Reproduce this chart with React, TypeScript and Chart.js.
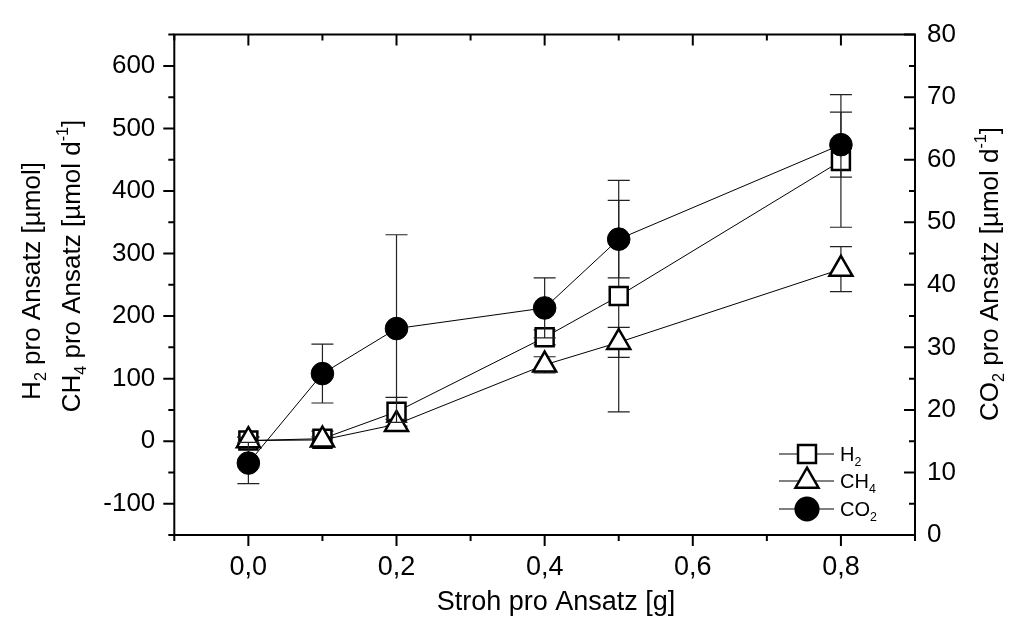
import React, { useEffect, useRef } from 'react';
import { Chart, registerables } from 'chart.js';

Chart.register(...registerables);

// ---- data ----
const strawGrams = [0, 0.1, 0.2, 0.4, 0.5, 0.8];
const h2Values = [1, 4, 47, 166, 232, 448];
const h2Errors = [6, 12, 23, 12, 185, 106];
const ch4Values = [1, 2, 27, 122, 158, 275];
const ch4Errors = [5, 5, 8, 13, 24, 36];
const co2Values = [11.5, 25.8, 33, 36.3, 47.3, 62.4];
const co2Errors = [3.3, 4.7, 15, 4.8, 6.2, 5.2];

// ---- ticks ----
const xTickValues = [0, 0.2, 0.4, 0.6, 0.8];
const xTickLabels = ['0,0', '0,2', '0,4', '0,6', '0,8'];
const xMinorValues = [-0.1, 0.1, 0.3, 0.5, 0.7, 0.9];
const leftTickValues = [-100, 0, 100, 200, 300, 400, 500, 600];
const leftMinorValues = [-150, -50, 50, 150, 250, 350, 450, 550, 650];
const rightTickValues = [0, 10, 20, 30, 40, 50, 60, 70, 80];
const rightMinorValues = [5, 15, 25, 35, 45, 55, 65, 75];

const FONT = "'Liberation Sans', Arial, Helvetica, sans-serif";

type Seg = { t: string; k?: 'sub' | 'sup' };

const leftTitle1: Seg[] = [{ t: 'H' }, { t: '2', k: 'sub' }, { t: ' pro Ansatz [µmol]' }];
const leftTitle2: Seg[] = [{ t: 'CH' }, { t: '4', k: 'sub' }, { t: ' pro Ansatz [µmol d' }, { t: '-1', k: 'sup' }, { t: ']' }];
const rightTitle: Seg[] = [{ t: 'CO' }, { t: '2', k: 'sub' }, { t: ' pro Ansatz [µmol d' }, { t: '-1', k: 'sup' }, { t: ']' }];
const xTitle: Seg[] = [{ t: 'Stroh pro Ansatz [g]' }];
const legendEntries: { segs: Seg[]; style: string }[] = [
  { segs: [{ t: 'H' }, { t: '2', k: 'sub' }], style: 'rect' },
  { segs: [{ t: 'CH' }, { t: '4', k: 'sub' }], style: 'triangle' },
  { segs: [{ t: 'CO' }, { t: '2', k: 'sub' }], style: 'circle' },
];

function drawRich(ctx: CanvasRenderingContext2D, segs: Seg[], size: number, x: number, y: number, rotate: boolean, align: 'center' | 'left') {
  ctx.save();
  ctx.translate(x, y);
  if (rotate) ctx.rotate(-Math.PI / 2);
  const small = size * 0.62;
  let w = 0;
  for (const s of segs) {
    ctx.font = `${s.k ? small : size}px ${FONT}`;
    w += ctx.measureText(s.t).width;
  }
  let cx = align === 'center' ? -w / 2 : 0;
  ctx.textBaseline = 'alphabetic';
  ctx.textAlign = 'left';
  ctx.fillStyle = '#000';
  for (const s of segs) {
    ctx.font = `${s.k ? small : size}px ${FONT}`;
    const dy = s.k === 'sub' ? size * 0.24 : s.k === 'sup' ? -size * 0.45 : 0;
    ctx.fillText(s.t, cx, dy);
    cx += ctx.measureText(s.t).width;
  }
  ctx.restore();
}

function drawMarker(ctx: CanvasRenderingContext2D, style: string, x: number, y: number) {
  ctx.save();
  ctx.lineWidth = 2.5;
  ctx.strokeStyle = '#000';
  ctx.beginPath();
  if (style === 'rect') {
    const s = 12.7 * Math.SQRT1_2;
    ctx.rect(x - s, y - s, 2 * s, 2 * s);
    ctx.fillStyle = '#fff';
  } else if (style === 'triangle') {
    const r = 13.3;
    let a = 0;
    for (let k = 0; k < 3; k++) {
      const px = x + Math.sin(a) * r;
      const py = y - Math.cos(a) * r;
      if (k === 0) ctx.moveTo(px, py); else ctx.lineTo(px, py);
      a += (2 * Math.PI) / 3;
    }
    ctx.closePath();
    ctx.fillStyle = '#fff';
  } else {
    ctx.arc(x, y, 11.3, 0, Math.PI * 2);
    ctx.fillStyle = '#000';
  }
  ctx.fill();
  ctx.stroke();
  ctx.restore();
}

const valueSets = [h2Values, ch4Values, co2Values];
const errorSets = [h2Errors, ch4Errors, co2Errors];

const decorPlugin = {
  id: 'decor',
  beforeDatasetDraw(chart: any, args: any) {
    const idx = args.index;
    const meta = args.meta;
    const vals = valueSets[idx];
    const errs = errorSets[idx];
    const ys = meta.yScale;
    const ctx: CanvasRenderingContext2D = chart.ctx;
    ctx.save();
    ctx.strokeStyle = '#222';
    ctx.lineWidth = 1.2;
    meta.data.forEach((pt: any, i: number) => {
      const x = pt.x;
      const yT = ys.getPixelForValue(vals[i] + errs[i]);
      const yB = ys.getPixelForValue(vals[i] - errs[i]);
      ctx.beginPath();
      ctx.moveTo(x, yT);
      ctx.lineTo(x, yB);
      ctx.moveTo(x - 11, yT);
      ctx.lineTo(x + 11, yT);
      ctx.moveTo(x - 11, yB);
      ctx.lineTo(x + 11, yB);
      ctx.stroke();
    });
    ctx.restore();
  },
  afterDraw(chart: any) {
    const ctx: CanvasRenderingContext2D = chart.ctx;
    const { left, right, top, bottom } = chart.chartArea;
    const xs = chart.scales.x;
    const yl = chart.scales.y;
    const yr = chart.scales.y2;
    ctx.save();
    ctx.strokeStyle = '#000';
    ctx.lineWidth = 2;
    ctx.lineCap = 'square';
    ctx.beginPath();
    ctx.rect(left, top, right - left, bottom - top);
    ctx.stroke();
    ctx.lineCap = 'butt';
    ctx.beginPath();
    const MAJ = 11, MIN = 6;
    xTickValues.forEach((v) => {
      const px = xs.getPixelForValue(v);
      ctx.moveTo(px, bottom); ctx.lineTo(px, bottom + MAJ);
      ctx.moveTo(px, top); ctx.lineTo(px, top + MAJ);
    });
    xMinorValues.forEach((v) => {
      const px = xs.getPixelForValue(v);
      ctx.moveTo(px, bottom); ctx.lineTo(px, bottom + MIN);
      ctx.moveTo(px, top); ctx.lineTo(px, top + MIN);
    });
    leftTickValues.forEach((v) => {
      const py = yl.getPixelForValue(v);
      ctx.moveTo(left, py); ctx.lineTo(left - MAJ, py);
    });
    leftMinorValues.forEach((v) => {
      const py = yl.getPixelForValue(v);
      ctx.moveTo(left, py); ctx.lineTo(left - MIN, py);
    });
    rightTickValues.forEach((v) => {
      const py = yr.getPixelForValue(v);
      ctx.moveTo(right, py); ctx.lineTo(right - MAJ, py);
    });
    rightMinorValues.forEach((v) => {
      const py = yr.getPixelForValue(v);
      ctx.moveTo(right, py); ctx.lineTo(right - MIN, py);
    });
    ctx.stroke();
    ctx.restore();

    // axis titles
    drawRich(ctx, leftTitle1, 26, 40, 281, true, 'center');
    drawRich(ctx, leftTitle2, 26, 80, 266, true, 'center');
    drawRich(ctx, rightTitle, 26, 998, 274, true, 'center');
    drawRich(ctx, xTitle, 27, 556, 610, false, 'center');

    // legend
    const rowY = [454, 481, 509];
    legendEntries.forEach((e, i) => {
      const y = rowY[i];
      ctx.save();
      ctx.strokeStyle = '#000';
      ctx.lineWidth = 1;
      ctx.beginPath();
      ctx.moveTo(779, y);
      ctx.lineTo(834, y);
      ctx.stroke();
      ctx.restore();
      drawMarker(ctx, e.style, 807, y);
      drawRich(ctx, e.segs, 20, 840, y + 7, false, 'left');
    });
  },
};

export default function App() {
  const ref = useRef<HTMLCanvasElement | null>(null);
  useEffect(() => {
    document.body.style.margin = '0';
    const canvas = ref.current;
    if (!canvas) return;
    Chart.defaults.font.family = FONT;
    Chart.defaults.color = '#000';
    const mk = (vals: number[]) => strawGrams.map((x, i) => ({ x, y: vals[i] }));
    const chart = new Chart(canvas, {
      type: 'line',
      data: {
        datasets: [
          {
            label: 'H2', data: mk(h2Values), yAxisID: 'y', borderColor: '#000', borderWidth: 1,
            pointStyle: 'rect', pointRadius: 12.7, pointBorderWidth: 2.5, pointBackgroundColor: '#fff',
            pointBorderColor: '#000', order: 3, tension: 0, fill: false,
          },
          {
            label: 'CH4', data: mk(ch4Values), yAxisID: 'y', borderColor: '#000', borderWidth: 1,
            pointStyle: 'triangle', pointRadius: 13.3, pointBorderWidth: 2.5, pointBackgroundColor: '#fff',
            pointBorderColor: '#000', order: 2, tension: 0, fill: false,
          },
          {
            label: 'CO2', data: mk(co2Values), yAxisID: 'y2', borderColor: '#000', borderWidth: 1,
            pointStyle: 'circle', pointRadius: 11.3, pointBorderWidth: 1, pointBackgroundColor: '#000',
            pointBorderColor: '#000', order: 1, tension: 0, fill: false,
          },
        ] as any,
      },
      options: {
        animation: false,
        responsive: true,
        maintainAspectRatio: false,
        events: [],
        layout: { autoPadding: false, padding: { top: 21, left: 0, right: 0, bottom: 0 } },
        plugins: { legend: { display: false }, tooltip: { enabled: false } },
        scales: {
          x: {
            type: 'linear', position: 'bottom', min: -0.1, max: 0.9,
            grid: { display: false, drawTicks: false }, border: { display: false },
            afterBuildTicks: (s: any) => { s.ticks = xTickValues.map((v) => ({ value: v })); },
            afterFit: (s: any) => { s.height = 88; },
            ticks: {
              callback: (_v: any, i: number) => xTickLabels[i],
              font: { size: 27 }, color: '#000', padding: 16, maxRotation: 0, autoSkip: false,
            },
          },
          y: {
            type: 'linear', position: 'left', min: -150, max: 650,
            grid: { display: false, drawTicks: false }, border: { display: false },
            afterBuildTicks: (s: any) => { s.ticks = leftTickValues.map((v) => ({ value: v })); },
            afterFit: (s: any) => { s.width = 174.3; },
            ticks: { font: { size: 26 }, color: '#000', padding: 19, autoSkip: false },
          },
          y2: {
            type: 'linear', position: 'right', min: 0, max: 80,
            grid: { display: false, drawTicks: false }, border: { display: false },
            afterBuildTicks: (s: any) => { s.ticks = rightTickValues.map((v) => ({ value: v })); },
            afterFit: (s: any) => { s.width = 94; },
            ticks: { font: { size: 26 }, color: '#000', padding: 12, autoSkip: false },
          },
        } as any,
      },
      plugins: [decorPlugin as any],
    });
    return () => chart.destroy();
  }, []);
  return (
    <div style={{ position: 'fixed', left: 0, top: 0, width: 1009, height: 623, background: '#fff' }}>
      <canvas ref={ref} />
    </div>
  );
}
